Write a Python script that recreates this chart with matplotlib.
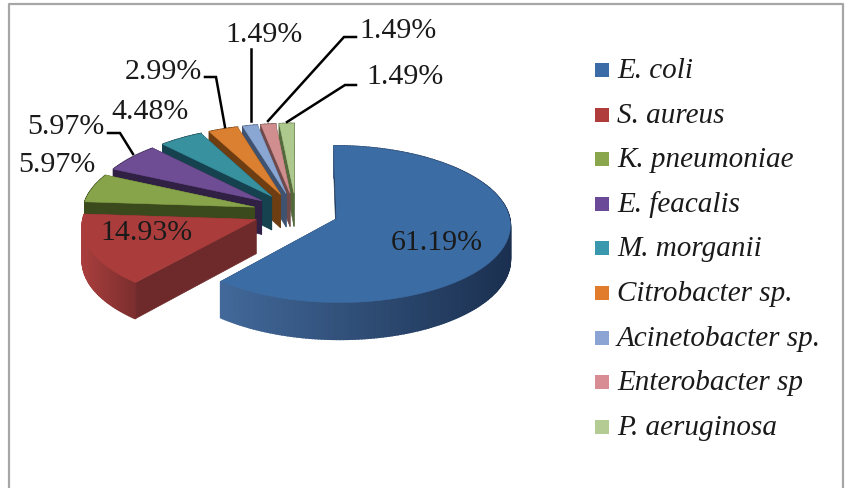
import numpy as np
import matplotlib
matplotlib.use("Agg")
import matplotlib.pyplot as plt
from matplotlib.colors import to_rgb
from matplotlib.patches import Rectangle

# data
species = ["E. coli", "S. aureus", "K. pneumoniae", "E. feacalis", "M. morganii",
           "Citrobacter sp.", "Acinetobacter sp.", "Enterobacter sp", "P. aeruginosa"]
percent = [61.19, 14.93, 5.97, 5.97, 4.48, 2.99, 1.49, 1.49, 1.49]

# styles
top_col = ["#3c6ca4", "#aa3d3c", "#87a44a", "#6f4d94", "#37919f",
           "#db8030", "#8aa6d2", "#d08f8e", "#aec98e"]
cut_col = ["#1f3a5c", "#6e2a2a", "#3a4a1c", "#2f2044", "#15424e",
           "#6e3e12", "#3f5370", "#70494a", "#556a3c"]
arc_col = [("#42699a", "#1b3050"), ("#a83e3d", "#7c2e2e")] + [(c, c) for c in cut_col[2:]]
legend_col = ["#3c6ca8", "#b03c3c", "#8aa64c", "#6a4a98", "#3a98ae",
              "#e07c2c", "#8ca4d4", "#d88c94", "#b4cc94"]

# layout, in pixels of the 848x489 picture
CX, CY = 296, 213
A, B = 172, 77
PERSP = 0.07
EXPLODE = 0.25
DEPTH = 34
label_xy = [(437, 243), (146, 233), (57, 165), (66, 127), (150, 112),
            (163, 72), (264, 35), (398, 31), (405, 77)]
leaders = {
    3: [(108, 134), (120, 134), (133, 155)],
    5: [(205, 78), (216, 78), (225, 128)],
    6: [(251, 50), (251, 122)],
    7: [(356, 38), (344, 38), (268, 122)],
    8: [(356, 86), (345, 86), (287, 123)],
}
legend_y0, legend_step = 71, 44.6


def project(X, Y):
    # Y points towards the viewer
    w = 1.0 / (1.0 - PERSP * Y)
    return CX + A * X * w, CY + B * Y * w, w


def wedge_points(t0, t1):
    mid = 0.5 * (t0 + t1)
    ox, oy = EXPLODE * np.sin(mid), -EXPLODE * np.cos(mid)
    ts = np.linspace(t0, t1, max(3, int((t1 - t0) * 60)))
    x, y, w = project(ox + np.sin(ts), oy - np.cos(ts))
    ax0, ay0, aw0 = project(ox, oy)
    return (ax0, ay0, aw0), x, y, w


fig = plt.figure(figsize=(8.48, 4.89), dpi=100)
ax = fig.add_axes([0, 0, 1, 1])
ax.set_xlim(0, 848)
ax.set_ylim(489, 0)
ax.axis("off")

# outer frame
ax.plot([9, 9, 843, 843], [489, 5, 5, 489], color="#a6a6a6", lw=1.6, zorder=1)

edges = np.cumsum([0] + percent) / 100 * 2 * np.pi
# back slices first, so the nearer ones paint over them
order = list(range(len(percent)))[::-1]
z = 2
for i in order:
    (ax0, ay0, aw0), x, y, w = wedge_points(edges[i], edges[i + 1])
    d = DEPTH * w
    d0 = DEPTH * aw0
    # two cut walls
    ax.fill([ax0, x[0], x[0], ax0], [ay0, y[0], y[0] + d[0], ay0 + d0],
            color=cut_col[i], lw=0.5, zorder=z)
    ax.fill([ax0, x[-1], x[-1], ax0], [ay0, y[-1], y[-1] + d[-1], ay0 + d0],
            color=cut_col[i], lw=0.5, zorder=z)
    # curved wall, shaded along the arc
    c_a, c_b = np.array(to_rgb(arc_col[i][0])), np.array(to_rgb(arc_col[i][1]))
    xmin, xmax = x.min(), x.max()
    for j in range(len(x) - 1):
        f = (x[j] - xmin) / max(xmax - xmin, 1)
        col = c_a + (c_b - c_a) * f
        ax.fill([x[j], x[j + 1], x[j + 1], x[j]],
                [y[j], y[j + 1], y[j + 1] + d[j + 1], y[j] + d[j]],
                color=col, lw=1.2, zorder=z)
    # top face
    ax.fill(np.r_[ax0, x], np.r_[ay0, y], color=top_col[i], lw=0.4, zorder=z + 1)
    z += 2

# leader lines
for i, pts in leaders.items():
    px, py = zip(*pts)
    ax.plot(px, py, color="black", lw=1.8, zorder=50, solid_joinstyle="miter")

# percent labels
for v, (lx, ly) in zip(percent, label_xy):
    ax.text(lx, ly, f"{v:.2f}%", family="Liberation Serif", fontsize=21.5,
            color="#1a1a1a", ha="center", va="center", zorder=60)

# legend
for k, name in enumerate(species):
    yy = legend_y0 + k * legend_step
    ax.add_patch(Rectangle((595, yy - 7), 14, 14, facecolor=legend_col[k],
                           edgecolor="none", zorder=5))
    ax.text(617, yy, name, family="Liberation Serif", style="italic", fontsize=21,
            color="#1a1a1a", ha="left", va="center", zorder=60)

fig.savefig("out.png", dpi=100)
